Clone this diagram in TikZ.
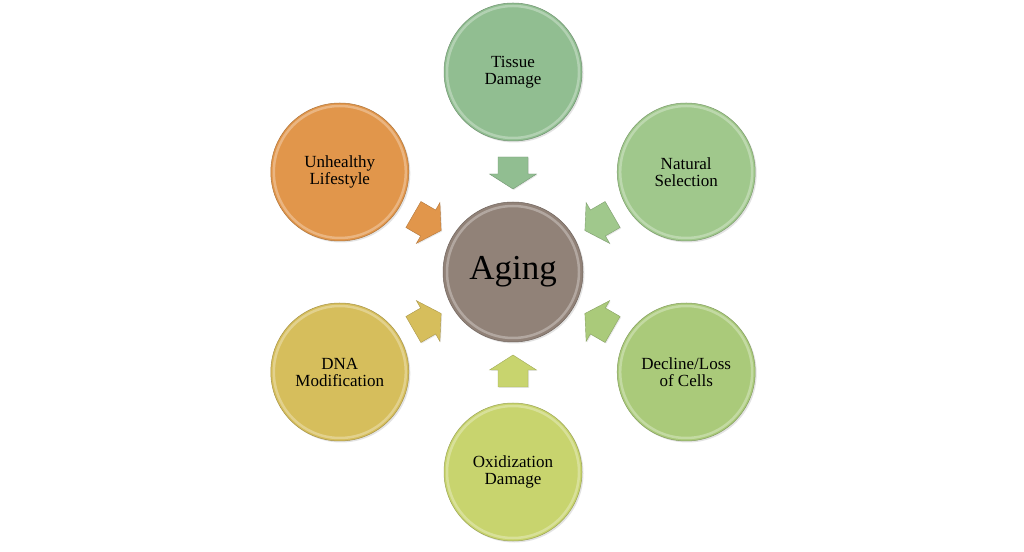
\documentclass[tikz,border=0pt]{standalone}
\usepackage{fontspec}
\setmainfont{Liberation Serif}
\usetikzlibrary{calc,shadows}
\definecolor{cTis}{RGB}{145,190,145}
\definecolor{cNat}{RGB}{160,200,140}
\definecolor{cDec}{RGB}{170,202,122}
\definecolor{cOxi}{RGB}{200,212,110}
\definecolor{cDNA}{RGB}{214,190,92}
\definecolor{cUnh}{RGB}{225,150,75}
\definecolor{cAge}{RGB}{145,130,120}
\tikzset{
  ball/.style={circle, minimum size=138pt, inner sep=0pt, align=center,
    font=\fontsize{17}{17}\selectfont, fill=#1, draw=#1!78!black, line width=0.5pt,
    drop shadow={opacity=0.22, shadow xshift=1.5pt, shadow yshift=-1.5pt}},
  rim/.style={draw=white, opacity=0.3, line width=2.5pt},
  blockarrow/.style={fill=#1, draw=#1!80!black, line width=0.4pt,
    drop shadow={opacity=0.18, shadow xshift=1pt, shadow yshift=-1pt}}
}
\begin{document}
\begin{tikzpicture}[x=1pt,y=1pt]
\useasboundingbox (0,0) rectangle (1024,551);
\fill[white] (0,0) rectangle (1024,551);
\coordinate (C) at (513,279);
\node[ball=cAge, minimum size=140pt, font=\fontsize{35}{35}\selectfont] (ag) at (C) {Aging};
\node[ball=cTis] (t) at ($(C)+(90:200)$) {Tissue\\Damage};
\node[ball=cNat] (ns) at ($(C)+(30:200)$) {Natural\\Selection};
\node[ball=cDec] (dl) at ($(C)+(-30:200)$) {Decline/Loss\\of Cells};
\node[ball=cOxi] (ox) at ($(C)+(-90:200)$) {Oxidization\\Damage};
\node[ball=cDNA] (dn) at ($(C)+(210:200)$) {DNA\\Modification};
\node[ball=cUnh] (uh) at ($(C)+(150:200)$) {Unhealthy\\Lifestyle};
\foreach \nm in {ag,t,ns,dl,ox,dn,uh}{
  \draw[rim] (\nm.center) circle (66pt);
}
\foreach \nm/\ang/\col in {t/90/cTis, ns/30/cNat, dl/-30/cDec, ox/-90/cOxi, dn/210/cDNA, uh/150/cUnh}{
  \begin{scope}[shift={($(ag)!99pt!(\nm)$)}, rotate=\ang+180]
    \path[blockarrow=\col] (-16,-15) -- (1,-15) -- (1,-23.5) -- (16,0) -- (1,23.5) -- (1,15) -- (-16,15) -- cycle;
  \end{scope}
}
\end{tikzpicture}
\end{document}
